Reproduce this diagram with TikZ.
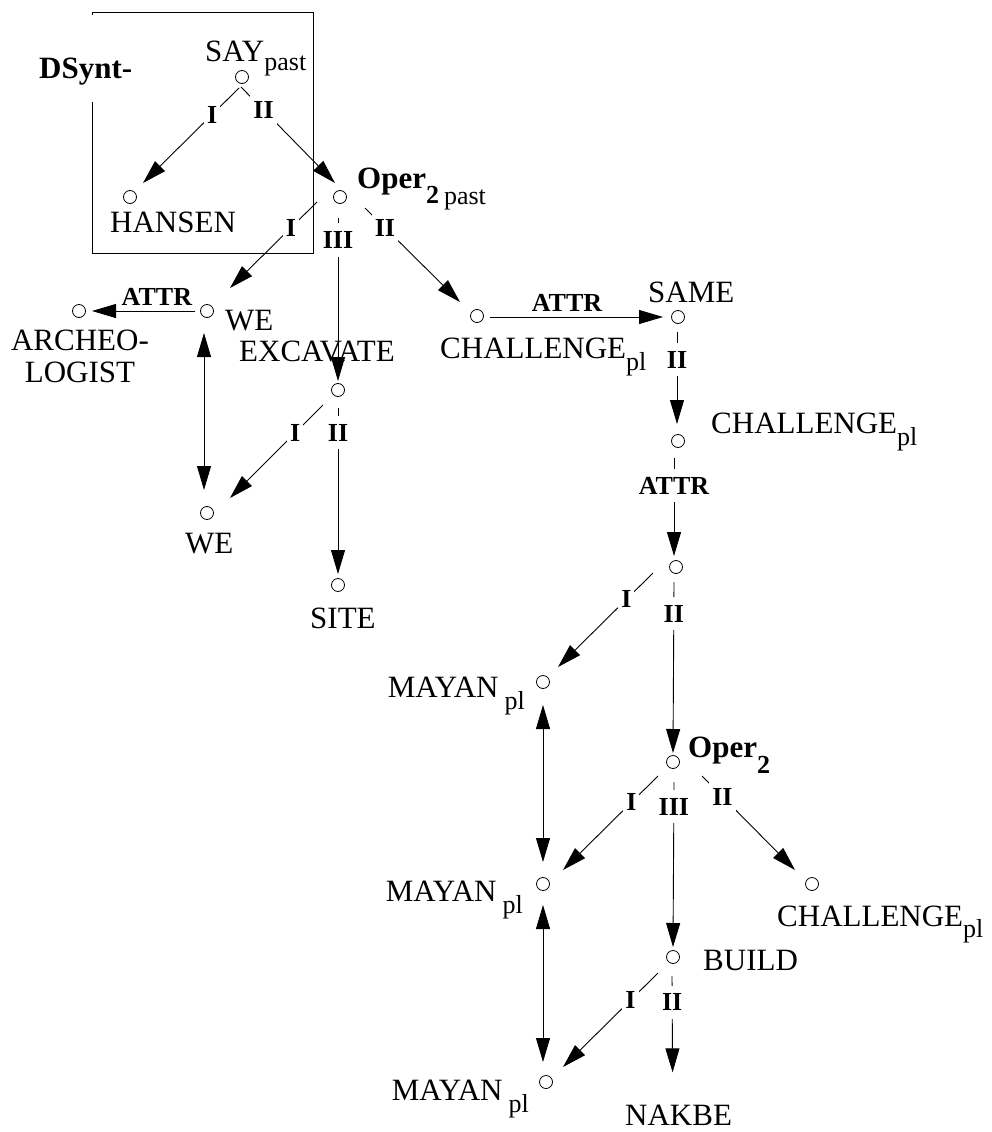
\documentclass[tikz,border=0pt]{standalone}
\usepackage{fontspec}
\setmainfont{Liberation Serif}
\usetikzlibrary{arrows.meta}
\newcommand\lsub[2]{\raisebox{-#1pt}{\fontsize{26}{26}\selectfont\mdseries #2}}
\newcommand\blsub[2]{\raisebox{-#1pt}{\fontsize{26}{26}\selectfont\bfseries #2}}
\begin{document}
\begin{tikzpicture}[x=1pt,y=-1pt,
  dot/.style={circle,draw,minimum size=13pt,inner sep=0pt,outer sep=0pt,line width=0.8pt},
  word/.style={inner sep=0pt,anchor=base west,font=\fontsize{31}{32}\selectfont},
  bword/.style={word,font=\fontsize{31}{32}\selectfont\bfseries},
  arr/.style={line width=0.9pt,-{Triangle[length=24pt,width=14pt]}},
  biarr/.style={line width=0.9pt,{Triangle[length=24pt,width=14pt]}-{Triangle[length=24pt,width=14pt]}},
  lab/.style={fill=white,inner xsep=3pt,inner ysep=8pt,font=\fontsize{26}{26}\selectfont\bfseries},
  toplab/.style={inner sep=0pt,above=5pt,font=\fontsize{26}{26}\selectfont\bfseries}]
\useasboundingbox (0,0) rectangle (992,1132);

% frame
\draw[line width=0.9pt] (92,15) -- (92,12) -- (313,12) -- (313,253) -- (92,253) -- (92,102);

% circles
\node[dot] (say) at (242,77) {};
\node[dot] (hansen) at (130,197) {};
\node[dot] (oper) at (340,197) {};
\node[dot] (we1) at (207,311) {};
\node[dot] (arch) at (79,311) {};
\node[dot] (excav) at (338,390) {};
\node[dot] (chal1) at (477,316) {};
\node[dot] (same) at (678,317) {};
\node[dot] (chal2) at (678,441) {};
\node[dot] (nn) at (676,567) {};
\node[dot] (we2) at (207,513) {};
\node[dot] (site) at (338,585) {};
\node[dot] (may1) at (543,682) {};
\node[dot] (oper2) at (673,762) {};
\node[dot] (may2) at (543,884) {};
\node[dot] (chal3) at (812,884) {};
\node[dot] (build) at (673,957) {};
\node[dot] (may3) at (546,1082) {};

% words
\node[bword] (dsynt) at (39,78) {DSynt-};
\node[word] (sayt) at (205,62) {SAY\lsub{9}{past}};
\node[word] (hansent) at (110,232) {HANSEN};
\node[bword] (opert) at (357,188) {Oper\blsub{15}{2}\hspace{5pt}\lsub{16}{past}};
\node[word] (chal1t) at (440,358) {CHALLENGE\lsub{12}{pl}};
\node[word] (samet) at (648,302) {SAME};
\node[word] (chal2t) at (711,433) {CHALLENGE\lsub{12}{pl}};
\node[word] (we1t) at (225,330) {WE};
\node[word] (excavt) at (239,361) {EXCAVATE};
\node[inner sep=0pt,anchor=north,align=center,font=\fontsize{31}{32}\selectfont] (archt) at (80,330) {ARCHEO-\\LOGIST};
\node[word] (we2t) at (185,553) {WE};
\node[word] (sitet) at (310,628) {SITE};
\node[word,anchor=base east] (may1t) at (525,697) {MAYAN\hspace{6pt}\lsub{12}{pl}};
\node[word,anchor=base east] (may2t) at (523,901) {MAYAN\hspace{6pt}\lsub{12}{pl}};
\node[word,anchor=base east] (may3t) at (529,1100) {MAYAN\hspace{6pt}\lsub{12}{pl}};
\node[bword] (oper2t) at (688,757) {Oper\blsub{16}{2}};
\node[word] (chal3t) at (777,926) {CHALLENGE\lsub{11}{pl}};
\node[word] (buildt) at (703,970) {BUILD};
\node[word] (nakbe) at (625,1125) {NAKBE};

% edges
\draw[arr] ([shift={(-3,11)}]say.center) -- node[lab,pos=0.28]{I} ([shift={(13,-14)}]hansen.center);
\draw[arr] ([shift={(-1,10)}]say.center) -- node[lab,pos=0.24]{II} ([shift={(-5,-14)}]oper.center);
\draw[arr] ([shift={(-23,5)}]oper.center) -- node[lab,pos=0.3]{I} ([shift={(23,-23)}]we1.center);
\draw[arr] ([shift={(-2,21)}]oper.center) -- node[lab,pos=0.135]{III} ([shift={(0,-9)}]excav.center);
\draw[arr] ([shift={(25,11)}]oper.center) -- node[lab,pos=0.21]{II} ([shift={(-17,-14)}]chal1.center);
\draw[arr] ([shift={(13,1)}]chal1.center) -- node[toplab,pos=0.445]{ATTR} ([shift={(-15,0)}]same.center);
\draw[arr] ([shift={(-1,15)}]same.center) -- node[lab,pos=0.3]{II} ([shift={(-1,-17)}]chal2.center);
\draw[arr] ([shift={(-4,17)}]chal2.center) -- node[lab,pos=0.28]{ATTR} ([shift={(-2,-11)}]nn.center);
\draw[arr] ([shift={(-23,6)}]nn.center) -- node[lab,pos=0.28]{I} ([shift={(15,-15)}]may1.center);
\draw[arr] ([shift={(-2,15)}]nn.center) -- node[lab,pos=0.185]{II} ([shift={(0,-9)}]oper2.center);
\draw[arr] ([shift={(-12,0)}]we1.center) -- node[toplab,pos=0.37]{ATTR} ([shift={(13,0)}]arch.center);
\draw[biarr] ([shift={(-3,22)}]we1.center) -- ([shift={(-3,-23)}]we2.center);
\draw[arr] ([shift={(-15,15)}]excav.center) -- node[lab,pos=0.3]{I} ([shift={(23,-15)}]we2.center);
\draw[arr] ([shift={(0,18)}]excav.center) -- node[lab,pos=0.15]{II} ([shift={(0,-11)}]site.center);
\draw[biarr] ([shift={(0,23)}]may1.center) -- ([shift={(0,-22)}]may2.center);
\draw[arr] ([shift={(-15,14)}]oper2.center) -- node[lab,pos=0.28]{I} ([shift={(20,-14)}]may2.center);
\draw[arr] ([shift={(1,20)}]oper2.center) -- node[lab,pos=0.15]{III} ([shift={(0,-10)}]build.center);
\draw[arr] ([shift={(29,14)}]oper2.center) -- node[lab,pos=0.22]{II} ([shift={(-17,-14)}]chal3.center);
\draw[biarr] ([shift={(0,21)}]may2.center) -- ([shift={(-3,-20)}]may3.center);
\draw[arr] ([shift={(-15,16)}]build.center) -- node[lab,pos=0.29]{I} ([shift={(17,-15)}]may3.center);
\draw[arr] ([shift={(-1,19)}]build.center) -- node[lab,pos=0.27]{II} ([shift={(-6,-32)}]nakbe.north);
\end{tikzpicture}
\end{document}
